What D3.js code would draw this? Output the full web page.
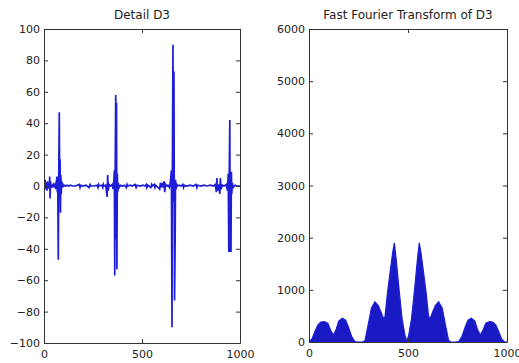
<!DOCTYPE html>
<html>
<head>
<meta charset="utf-8">
<script src="https://cdn.jsdelivr.net/npm/d3@7"></script>
<style>
  body { margin: 0; background: #fff; }
  svg text { font-family: "DejaVu Sans", sans-serif; fill: #222; }
</style>
</head>
<body>
<div id="chart"></div>
<script>
// detail D3 signal as (sample, value)
const detailIdx = [0, 3, 6, 9, 12, 15, 18, 21, 24, 27, 29, 31, 33, 36, 40, 44, 48, 52, 56, 60, 63, 66, 68, 70,
  73, 75, 78, 80, 82, 84, 86, 88, 90, 93, 96, 100, 105, 110, 118, 125, 135, 145, 160, 180, 184, 188, 200,
  215, 230, 235, 240, 255, 270, 275, 278, 282, 295, 300, 303, 306, 315, 322, 325, 328, 332, 340, 348, 352,
  356, 359, 361, 363, 366, 368, 370, 372, 374, 376, 379, 383, 390, 400, 410, 420, 424, 428, 440, 450, 465,
  470, 475, 490, 505, 515, 522, 525, 530, 545, 549, 553, 562, 566, 570, 590, 594, 598, 602, 606, 612, 616,
  620, 625, 632, 640, 645, 650, 653, 655, 658, 660, 663, 666, 669, 671, 674, 677, 682, 690, 700, 708, 712,
  716, 730, 745, 760, 776, 780, 784, 800, 815, 830, 850, 865, 875, 879, 882, 885, 890, 897, 900, 903, 910,
  920, 930, 936, 940, 943, 945, 948, 950, 952, 954, 956, 958, 961, 965, 975, 985, 1000];
const detailVal = [1, -2, 4, -2, 2, -3, 3, -1, 1, -2, 6, -8, 3, -1, 1, -1, 1, 0, 1, -2, 2, 6, -4, 3,
  -47, 4, 47, -3, 17, -17, 7, -5, 3, -1, 1, 0, 0.5, 0, 0.5, 0, 0.5, 0, 0, 1, -1, 0.5, 0,
  0.5, -1, 1, 0, 0, 0.5, -1, 1, 0, 0.5, -1, 1, 0, 0.5, -7, 7, -3, 1, 0, 1, -2,
  3, 10, -57, 6, 58, -34, 53, -53, 8, -4, 2, -1, 0.5, 0, 0.5, -1, 1, 0, 0.5, 0, 1,
  -1, 0.5, 0, 0.5, 0, 1, -1, 0.5, -1, 1, 0, 1, -1, 0.5, -2, 2, -1, 1, 0, 3, -4,
  1, 0, 0.5, -1, 3, 10, -90, 8, 90, -10, 73, -73, -37, 4, -2, 1, 0, 0.5, 0, 1, -1,
  0.5, 0, 0.5, 0, 1, -1, 0.5, 0, 0.5, 0, 0.5, 0, 1, -4, 5, -3, 1, -5, 5, -2, 0.5,
  0, 1, -3, 8, -42, 6, 42, -42, 8, -42, 9, -5, 2, -1, 0.5, 0, 0];

// upper envelope of |FFT(D3)|
const fftIdx = [0, 15, 30, 45, 60, 77, 95, 110, 123, 138, 150, 168, 185, 200, 215, 232, 250, 270, 283, 300,
  315, 333, 350, 365, 375, 384, 395, 410, 422, 431, 440, 455, 470, 485, 494, 503, 518, 533, 548, 557, 566,
  578, 593, 604, 613, 623, 638, 655, 673, 688, 705, 718, 738, 756, 773, 788, 803, 820, 838, 850, 865, 878,
  893, 911, 928, 943, 958, 973, 988, 1000];
const fftVal = [0, 60, 200, 330, 380, 390, 360, 220, 134, 250, 400, 455, 420, 280, 110, 10, 0, 0, 30, 350,
  650, 772, 700, 560, 460, 485, 900, 1350, 1700, 1900, 1600, 1000, 450, 120, 20, 120, 450, 1000, 1600, 1900, 1700,
  1350, 900, 485, 460, 560, 700, 772, 650, 350, 30, 0, 0, 10, 110, 280, 420, 455, 400, 250, 134, 220,
  360, 390, 380, 330, 200, 60, 0, 0];

const leftYTicks = [-100, -80, -60, -40, -20, 0, 20, 40, 60, 80, 100];
const rightYTicks = [0, 1000, 2000, 3000, 4000, 5000, 6000];
const xTicks = [0, 500, 1000];

const W = 519, H = 363;
const svg = d3.select('#chart').append('svg')
  .attr('width', W)
  .attr('height', H);

const blue = '#1e1ed8';

function panel(box, yDomain, yTicks, title) {
  const x = d3.scaleLinear().domain([0, 1000]).range([box.x0, box.x1]);
  const y = d3.scaleLinear().domain(yDomain).range([box.y1, box.y0]);
  const g = svg.append('g');

  const clip = 'clip' + box.x0;
  svg.append('clipPath').attr('id', clip)
    .append('rect')
    .attr('x', box.x0).attr('y', box.y0)
    .attr('width', box.x1 - box.x0).attr('height', box.y1 - box.y0);

  const plot = g.append('g').attr('clip-path', 'url(#' + clip + ')');

  const ax = (axis, tx, ty, labels, pad) => {
    const a = g.append('g')
      .attr('transform', 'translate(' + tx + ',' + ty + ')')
      .call(axis.tickSizeInner(-4).tickSizeOuter(0).tickPadding(pad)
        .tickFormat(labels ? d3.format('d') : ''));
    a.select('.domain').attr('stroke', '#333');
    a.selectAll('.tick line').attr('stroke', '#333');
    a.selectAll('text').style('font-size', '11px').attr('fill', '#222');
    return a;
  };
  ax(d3.axisBottom(x).tickValues(xTicks), 0, box.y1, true, 7);
  ax(d3.axisTop(x).tickValues(xTicks), 0, box.y0, false, 0);
  ax(d3.axisLeft(y).tickValues(yTicks), box.x0, 0, true, 4);
  ax(d3.axisRight(y).tickValues(yTicks), box.x1, 0, false, 0);

  g.append('text')
    .attr('x', (box.x0 + box.x1) / 2)
    .attr('y', 19)
    .attr('text-anchor', 'middle')
    .style('font-size', '12px')
    .text(title);

  return { x, y, plot };
}

// left: detail coefficients
const L = panel({ x0: 44, x1: 240, y0: 29, y1: 343 }, [-100, 100], leftYTicks, 'Detail D3');
const detail = detailIdx.map((d, i) => [d, detailVal[i]]);
L.plot.append('path')
  .datum(detail)
  .attr('fill', 'none')
  .attr('stroke', blue)
  .attr('stroke-width', 1.7)
  .attr('stroke-linejoin', 'miter')
  .attr('d', d3.line().x(d => L.x(d[0])).y(d => L.y(d[1])));

// right: FFT magnitude (dense oscillation drawn as filled envelope)
const R = panel({ x0: 309, x1: 507, y0: 29, y1: 342 }, [0, 6000], rightYTicks, 'Fast Fourier Transform of D3');
const fft = fftIdx.map((d, i) => [d, fftVal[i]]);
R.plot.append('path')
  .datum(fft)
  .attr('fill', '#1a1ac4')
  .attr('stroke', blue)
  .attr('stroke-width', 1.2)
  .attr('d', d3.area().x(d => R.x(d[0])).y0(R.y(0)).y1(d => R.y(d[1])));
</script>
</body>
</html>
